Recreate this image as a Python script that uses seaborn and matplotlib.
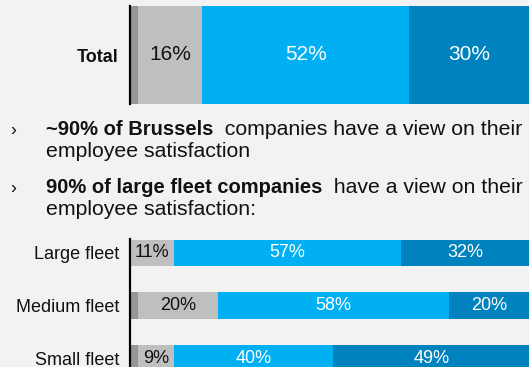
import matplotlib
matplotlib.use("Agg")
import matplotlib.pyplot as plt
import seaborn as sns
import numpy as np

W, H = 529, 367

# data
total_label = ["Total"]
total_dark = [2]
total_grey = [16]
total_blue = [52]
total_navy = [30]

fleet_labels = ["Large fleet", "Medium fleet", "Small fleet"]
fleet_dark = [0, 2, 2]
fleet_grey = [11, 20, 9]
fleet_blue = [57, 58, 40]
fleet_navy = [32, 20, 49]

bullet_1_bold = "~90% of Brussels"
bullet_1_rest = "  companies have a view on their"
bullet_1_line2 = "employee satisfaction"
bullet_2_bold = "90% of large fleet companies"
bullet_2_rest = "  have a view on their"
bullet_2_line2 = "employee satisfaction:"

colors = ["#969696", "#BFBFBF", "#00B0F2", "#0082BE"]
text_colors = [None, "#111111", "white", "white"]
bg = "#F2F2F2"

sns.set_theme(style="white")
plt.rcParams["font.family"] = ["Liberation Sans", "DejaVu Sans"]

fig = plt.figure(figsize=(W / 100, H / 100), dpi=100, facecolor=bg)


def stacked(ax, labels, parts, width, pct_size):
    cum = np.cumsum(np.array(parts), axis=0)
    # draw the longest layer first, shorter ones on top
    for i in range(len(parts) - 1, -1, -1):
        sns.barplot(x=cum[i], y=labels, orient="h", color=colors[i],
                    saturation=1, width=width, linewidth=0, ax=ax)
    for i, p in enumerate(parts):
        if text_colors[i] is None:
            continue
        for j, v in enumerate(p):
            if v == 0:
                continue
            ax.text(cum[i][j] - v / 2, j, f"{v}%", ha="center", va="center",
                    color=text_colors[i], fontsize=pct_size)
    ax.set_facecolor(bg)
    ax.set_xlim(0, 100)
    ax.set_xlabel("")
    ax.set_ylabel("")
    ax.set_xticks([])
    for s in ["top", "right", "bottom"]:
        ax.spines[s].set_visible(False)
    ax.spines["left"].set_color("black")
    ax.spines["left"].set_linewidth(1.6)
    ax.spines["left"].set_zorder(5)
    ax.tick_params(axis="y", length=0, pad=8, labelsize=13, labelcolor="#111111")


# top chart
ax1 = fig.add_axes([130 / W, 1 - 104 / H, 399 / W, 98 / H])
stacked(ax1, total_label, [total_dark, total_grey, total_blue, total_navy], 1.0, 15)
ax1.set_ylim(0.5, -0.5)
for t in ax1.get_yticklabels():
    t.set_fontweight("bold")

# bottom chart
ax2 = fig.add_axes([130 / W, 0, 399 / W, 127.7 / H])
stacked(ax2, fleet_labels, [fleet_dark, fleet_grey, fleet_blue, fleet_navy], 0.51, 13)
ax2.set_ylim(2.17, -0.26)

# bullet text
r = fig.canvas.get_renderer()
fs_bold = 14.5
fs = 15.3


def line(y, bold=None, rest=None, bullet=False):
    if bullet:
        fig.text(10 / W, 1 - y / H, "\u203a", fontsize=13, va="baseline", color="#111111")
    if bold is None:
        fig.text(46 / W, 1 - y / H, rest, fontsize=fs, va="baseline", color="#111111")
        return
    t = fig.text(46 / W, 1 - y / H, bold, fontsize=fs_bold, fontweight="bold",
                 va="baseline", color="#111111")
    bb = t.get_window_extent(renderer=r)
    fig.text(bb.x1 / W, 1 - y / H, rest, fontsize=fs, va="baseline", color="#111111")


line(135, bullet_1_bold, bullet_1_rest, bullet=True)
line(157, rest=bullet_1_line2)
line(193, bullet_2_bold, bullet_2_rest, bullet=True)
line(215, rest=bullet_2_line2)

fig.savefig("out.png", dpi=100, facecolor=bg)
